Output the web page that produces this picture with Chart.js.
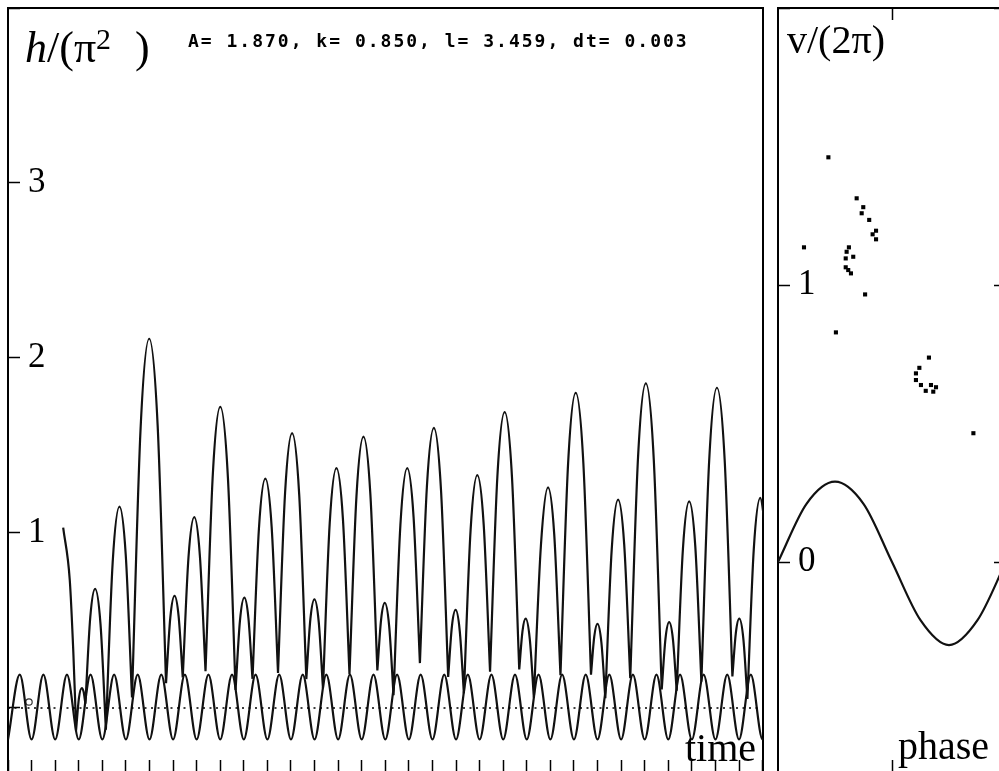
<!DOCTYPE html>
<html>
<head>
<meta charset="utf-8">
<script src="https://cdn.jsdelivr.net/npm/chart.js@4.4.1/dist/chart.umd.min.js"></script>
<style>
  html, body { margin: 0; padding: 0; background: #fff; overflow: hidden; width: 999px; height: 771px; }
  canvas { position: absolute; top: 0; }
  #timeChart { left: 0; }
  #phaseChart { left: 770px; }
  .lbl { position: absolute; font-family: 'Liberation Serif', 'Times New Roman', serif; line-height: 1; color: #000; white-space: nowrap; }
  .sup { position: relative; top: -0.45em; font-size: 0.68em; }
  #params { position: absolute; left: 188px; top: 32px; font-family: 'DejaVu Sans Mono', monospace; font-weight: bold; font-size: 18px; letter-spacing: 2px; line-height: 1; white-space: pre; }
</style>
</head>
<body>
<canvas id="timeChart" width="770" height="800"></canvas>
<canvas id="phaseChart" width="250" height="800"></canvas>

<div class="lbl" style="left:25px; top:26px; font-size:44px;"><i>h</i>/(π<span class="sup">2</span><span style="margin-left:24px">)</span></div>
<div id="params">A= 1.870, k= 0.850, l= 3.459, dt= 0.003</div>
<div class="lbl" style="left:787px; top:20px; font-size:40px;">v/(2π)</div>
<div class="lbl" style="left:685px; top:728px; font-size:40px;">time</div>
<div class="lbl" style="left:898px; top:726px; font-size:40px;">phase</div>

<script>
// axis ticks
const timeTicks = [0, 1, 2, 3, 4, 5, 6, 7, 8, 9, 10, 11, 12, 13, 14, 15, 16,
    17, 18, 19, 20, 21, 22, 23, 24, 25, 26, 27, 28, 29, 30, 31, 32];
const heightTicks = [0, 1, 2, 3, 4];
const heightLabels = ['', '1', '2', '3', ''];
const phaseTicks = [0.5];
const speedTicks = [0, 1, 2];
const speedLabels = ['0', '1', ''];

// plate height, extremes read at every half period
const plateTime = [0, 0.5, 1, 1.5, 2, 2.5, 3, 3.5, 4, 4.5, 5, 5.5, 6, 6.5, 7, 7.5, 8, 8.5,
    9, 9.5, 10, 10.5, 11, 11.5, 12, 12.5, 13, 13.5, 14, 14.5, 15, 15.5, 16, 16.5, 17, 17.5,
    18, 18.5, 19, 19.5, 20, 20.5, 21, 21.5, 22, 22.5, 23, 23.5, 24, 24.5, 25, 25.5, 26, 26.5,
    27, 27.5, 28, 28.5, 29, 29.5, 30, 30.5, 31, 31.5, 32, 32.5];
const plateHeight = [-0.18, 0.19, -0.18, 0.19, -0.18, 0.19, -0.18, 0.19, -0.18, 0.19, -0.18, 0.19,
    -0.18, 0.19, -0.18, 0.19, -0.18, 0.19, -0.18, 0.19, -0.18, 0.19, -0.18, 0.19, -0.18, 0.19,
    -0.18, 0.19, -0.18, 0.19, -0.18, 0.19, -0.18, 0.19, -0.18, 0.19, -0.18, 0.19, -0.18, 0.19,
    -0.18, 0.19, -0.18, 0.19, -0.18, 0.19, -0.18, 0.19, -0.18, 0.19, -0.18, 0.19, -0.18, 0.19,
    -0.18, 0.19, -0.18, 0.19, -0.18, 0.19, -0.18, 0.19, -0.18, 0.19, -0.18, 0.19];

// ball flights, one arc per line, null between arcs
const ballTime = [
    2.34, 2.62, 2.77, 2.845, 2.885, 2.885,
    2.885, 3.008, 3.13, 3.206, 3.282, 3.282,
    3.282, 3.488, 3.694, 3.923, 4.151, 4.151,
    4.151, 4.439, 4.726, 4.992, 5.258, 5.258,
    5.258, 5.623, 5.987, 6.345, 6.702, 6.702,
    6.702, 6.882, 7.062, 7.236, 7.41, 7.41,
    7.41, 7.654, 7.898, 8.137, 8.376, 8.376,
    8.376, 8.689, 9.002, 9.326, 9.65, 9.65,
    9.65, 9.836, 10.021, 10.195, 10.368, 10.368,
    10.368, 10.641, 10.913, 11.182, 11.45, 11.45,
    11.45, 11.749, 12.047, 12.349, 12.651, 12.651,
    12.651, 12.823, 12.994, 13.176, 13.357, 13.357,
    13.357, 13.643, 13.928, 14.205, 14.481, 14.481,
    14.481, 14.778, 15.074, 15.369, 15.663, 15.663,
    15.663, 15.821, 15.979, 16.164, 16.349, 16.349,
    16.349, 16.64, 16.93, 17.199, 17.468, 17.468,
    17.468, 17.764, 18.059, 18.363, 18.667, 18.667,
    18.667, 18.824, 18.981, 19.157, 19.333, 19.333,
    19.333, 19.618, 19.902, 20.172, 20.442, 20.442,
    20.442, 20.752, 21.062, 21.371, 21.68, 21.68,
    21.68, 21.817, 21.953, 22.127, 22.3, 22.3,
    22.3, 22.6, 22.9, 23.164, 23.428, 23.428,
    23.428, 23.752, 24.076, 24.4, 24.723, 24.723,
    24.723, 24.861, 24.998, 25.164, 25.33, 25.33,
    25.33, 25.602, 25.873, 26.131, 26.388, 26.388,
    26.388, 26.719, 27.049, 27.386, 27.723, 27.723,
    27.723, 27.881, 28.038, 28.198, 28.357, 28.357,
    28.357, 28.622, 28.887, 29.146, 29.404, 29.404,
    29.404, 29.734, 30.064, 30.392, 30.719, 30.719,
    30.719, 30.865, 31.011, 31.184, 31.356, 31.356,
    31.356, 31.629, 31.902, 32.1
];
const ballHeight = [
    1.03, 0.73, 0.32, 0.05, -0.13, null,
    -0.13, 0.056, 0.114, 0.092, 0.025, null,
    0.025, 0.517, 0.68, 0.479, -0.124, null,
    -0.124, 0.832, 1.15, 0.877, 0.06, null,
    0.06, 1.598, 2.11, 1.618, 0.142, null,
    0.142, 0.515, 0.64, 0.523, 0.174, null,
    0.174, 0.861, 1.09, 0.87, 0.21, null,
    0.21, 1.343, 1.72, 1.316, 0.103, null,
    0.103, 0.498, 0.63, 0.514, 0.166, null,
    0.166, 1.024, 1.31, 1.032, 0.2, null,
    0.2, 1.227, 1.57, 1.219, 0.165, null,
    0.165, 0.507, 0.62, 0.493, 0.113, null,
    0.113, 1.056, 1.37, 1.076, 0.193, null,
    0.193, 1.212, 1.55, 1.216, 0.214, null,
    0.214, 0.504, 0.6, 0.468, 0.073, null,
    0.073, 1.045, 1.37, 1.091, 0.256, null,
    0.256, 1.264, 1.6, 1.244, 0.177, null,
    0.177, 0.465, 0.56, 0.441, 0.083, null,
    0.083, 1.018, 1.33, 1.049, 0.207, null,
    0.207, 1.32, 1.69, 1.322, 0.22, null,
    0.22, 0.438, 0.51, 0.394, 0.06, null,
    0.06, 0.93, 1.26, 0.992, 0.187, null,
    0.187, 1.396, 1.8, 1.397, 0.19, null,
    0.19, 0.407, 0.48, 0.374, 0.056, null,
    0.056, 0.906, 1.19, 0.935, 0.17, null,
    0.17, 1.435, 1.855, 1.418, 0.106, null,
    0.106, 0.395, 0.49, 0.392, 0.098, null,
    0.098, 0.91, 1.18, 0.923, 0.15, null,
    0.15, 1.411, 1.83, 1.417, 0.18, null,
    0.18, 0.428, 0.51, 0.395, 0.052, null,
    0.052, 0.913, 1.2, 1.049
];

// little ring near the left axis
const markTime = [0.89];
const markHeight = [0.034];

// plate velocity over one phase
const platePhase = [0, 0.125, 0.25, 0.375, 0.5, 0.625, 0.75, 0.875, 1];
const plateSpeed = [0, 0.21, 0.29, 0.21, 0, -0.21, -0.30, -0.21, 0];

// take-off phase and speed at each bounce
const bouncePhase = [0.221, 0.345, 0.374, 0.367, 0.400, 0.430, 0.415, 0.430, 0.114, 0.311,
    0.301, 0.297, 0.330, 0.297, 0.308, 0.320, 0.382, 0.254, 0.662, 0.620,
    0.605, 0.605, 0.627, 0.648, 0.671, 0.693, 0.681, 0.857];
const bounceSpeed = [1.461, 1.313, 1.281, 1.259, 1.235, 1.196, 1.183, 1.165, 1.136, 1.136,
    1.120, 1.096, 1.102, 1.064, 1.054, 1.042, 0.966, 0.829, 0.738, 0.701,
    0.681, 0.657, 0.639, 0.618, 0.639, 0.631, 0.615, 0.465];

const serif = "'Liberation Serif', 'Times New Roman', serif";

function pairs(xs, ys) {
    return xs.map((x, i) => ({ x, y: ys[i] }));
}

// axes take no room, the layout padding places the frame
function noRoom(axis) {
    if (axis.isHorizontal()) axis.height = 0;
    else axis.width = 0;
    axis.paddingTop = 0;
    axis.paddingBottom = 0;
    axis.paddingLeft = 0;
    axis.paddingRight = 0;
}

function frameAxis(axis, position, min, max, tickValues, labels) {
    return {
        type: 'linear',
        axis,
        position,
        min,
        max,
        afterFit: noRoom,
        afterBuildTicks: (scale) => {
            scale.ticks = (tickValues || []).map(v => ({ value: v }));
        },
        border: { display: true, color: '#000', width: 2 },
        grid: {
            display: !!tickValues,
            drawOnChartArea: false,
            drawTicks: true,
            tickLength: -12,
            tickColor: '#000',
            tickWidth: 1.5
        },
        ticks: {
            display: !!labels,
            mirror: true,
            padding: 20,
            color: '#000',
            font: { family: serif, size: 35 },
            callback: (value, index) => labels ? labels[index] : ''
        }
    };
}

const baseOptions = {
    responsive: false,
    maintainAspectRatio: false,
    animation: false,
    events: [],
    plugins: { legend: { display: false }, tooltip: { enabled: false } }
};

new Chart(document.getElementById('timeChart'), {
    type: 'line',
    data: {
        datasets: [
            {
                data: pairs([0, 32.03], [0, 0]),
                borderColor: '#000',
                borderWidth: 1.5,
                borderDash: [2, 4.5],
                pointRadius: 0
            },
            {
                data: pairs(plateTime, plateHeight),
                borderColor: '#111',
                borderWidth: 2.2,
                cubicInterpolationMode: 'monotone',
                pointRadius: 0
            },
            {
                data: pairs(ballTime, ballHeight),
                borderColor: '#111',
                borderWidth: 2.2,
                cubicInterpolationMode: 'monotone',
                spanGaps: false,
                pointRadius: 0
            },
            {
                data: pairs(markTime, markHeight),
                showLine: false,
                pointRadius: 3.2,
                pointBorderWidth: 1.2,
                pointBorderColor: '#333',
                pointBackgroundColor: '#fff'
            }
        ]
    },
    options: {
        ...baseOptions,
        layout: { padding: { left: 8, top: 8, right: 6.7, bottom: 28 } },
        scales: {
            x: frameAxis('x', 'bottom', 0, 32.03, timeTicks, null),
            xTop: frameAxis('x', 'top', 0, 32.03, null, null),
            y: frameAxis('y', 'left', -0.366, 4.0, heightTicks, heightLabels),
            yRight: frameAxis('y', 'right', -0.366, 4.0, null, null)
        }
    }
});

new Chart(document.getElementById('phaseChart'), {
    type: 'line',
    data: {
        datasets: [
            {
                data: pairs(platePhase, plateSpeed),
                borderColor: '#111',
                borderWidth: 2.2,
                cubicInterpolationMode: 'monotone',
                pointRadius: 0
            },
            {
                data: pairs(bouncePhase, bounceSpeed),
                showLine: false,
                pointStyle: 'rect',
                pointRadius: 2.9,
                pointBorderWidth: 0,
                pointBackgroundColor: '#000'
            }
        ]
    },
    options: {
        ...baseOptions,
        layout: { padding: { left: 8, top: 8, right: 14, bottom: 28 } },
        scales: {
            x: frameAxis('x', 'bottom', 0, 1, phaseTicks, null),
            xTop: frameAxis('x', 'top', 0, 1, phaseTicks, null),
            y: frameAxis('y', 'left', -0.758, 2.0, speedTicks, speedLabels),
            yRight: frameAxis('y', 'right', -0.758, 2.0, speedTicks, null)
        }
    }
});
</script>
</body>
</html>
